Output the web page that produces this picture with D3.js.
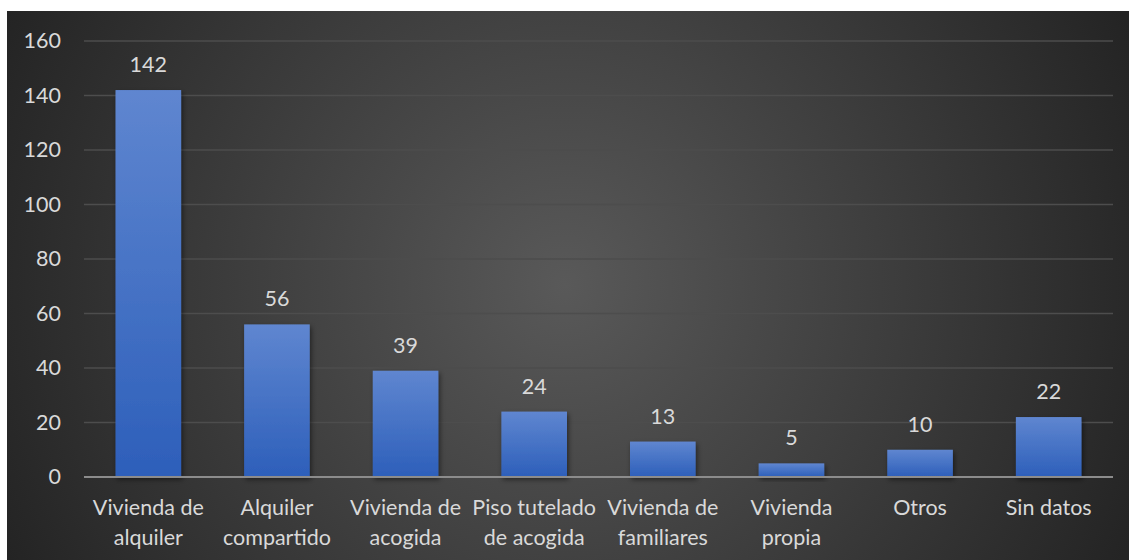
<!DOCTYPE html>
<html><head><meta charset="utf-8">
<script src="https://cdn.jsdelivr.net/npm/d3@7"></script>
<style>html,body{margin:0;padding:0;background:#fff;}svg{display:block;}</style>
</head><body>
<script>
const categories = [["Vivienda de","alquiler"],["Alquiler","compartido"],["Vivienda de","acogida"],["Piso tutelado","de acogida"],["Vivienda de","familiares"],["Vivienda","propia"],["Otros"],["Sin datos"]];
const values = [142,56,39,24,13,5,10,22];
const yTicks = [0,20,40,60,80,100,120,140,160];

const W=1131,H=560;
const svg=d3.select("body").append("svg").attr("width",W).attr("height",H);
const defs=svg.append("defs");
const rg=defs.append("radialGradient").attr("id","bg").attr("gradientUnits","userSpaceOnUse")
  .attr("cx",565).attr("cy",285).attr("r",620);
rg.append("stop").attr("offset","0%").attr("stop-color","#595959");
rg.append("stop").attr("offset","100%").attr("stop-color","#242424");
const lg=defs.append("linearGradient").attr("id","bar").attr("x1",0).attr("y1",0).attr("x2",0).attr("y2",1);
lg.append("stop").attr("offset","0%").attr("stop-color","#5f86d0");
lg.append("stop").attr("offset","100%").attr("stop-color","#2d5fba");
const f=defs.append("filter").attr("id","sh").attr("x","-20%").attr("y","-20%").attr("width","150%").attr("height","150%");
f.append("feDropShadow").attr("dx",1.5).attr("dy",2.5).attr("stdDeviation",2.5).attr("flood-color","#000").attr("flood-opacity",0.5);

svg.append("rect").attr("x",7).attr("y",11).attr("width",W-9).attr("height",H-11).attr("fill","url(#bg)");

const x=d3.scaleBand().domain(d3.range(categories.length)).range([84,1113]).paddingInner(0.49).paddingOuter(0.245);
const y=d3.scaleLinear().domain([0,160]).range([477,41]);
const font="Lato, 'Open Sans', sans-serif";
const fs="21.5px";
const tc="#d9d9d9";

const g=svg.append("g");
g.selectAll("line.grid").data(yTicks.filter(d=>d>0)).join("line")
  .attr("x1",84).attr("x2",1113).attr("y1",d=>y(d)).attr("y2",d=>y(d))
  .attr("stroke","#4d4d4d").attr("stroke-width",1.3);

const yAxis=svg.append("g").attr("transform","translate(84,0)")
  .call(d3.axisLeft(y).tickValues(yTicks).tickSize(0).tickPadding(23));
yAxis.select(".domain").remove();
yAxis.selectAll("text").attr("fill",tc).style("font-family",font).style("font-size",fs);

g.selectAll("rect.bar").data(values).join("rect")
  .attr("x",(d,i)=>x(i)).attr("width",x.bandwidth())
  .attr("y",d=>y(d)).attr("height",d=>y(0)-y(d))
  .attr("fill","url(#bar)").attr("filter","url(#sh)");

g.selectAll("text.val").data(values).join("text")
  .attr("x",(d,i)=>x(i)+x.bandwidth()/2).attr("y",d=>y(d)-18)
  .attr("text-anchor","middle").attr("fill",tc)
  .style("font-family",font).style("font-size",fs).text(d=>d);

svg.append("line").attr("x1",84).attr("x2",1113).attr("y1",y(0)).attr("y2",y(0))
  .attr("stroke","#8c8c8c").attr("stroke-width",1.8);

const xl=svg.selectAll("text.cat").data(categories).join("text")
  .attr("text-anchor","middle").attr("fill",tc)
  .style("font-family",font).style("font-size",fs);
xl.each(function(d,i){
  const t=d3.select(this);
  d.forEach((line,j)=>t.append("tspan").attr("x",x(i)+x.bandwidth()/2).attr("y",515+j*30).text(line));
});
</script>
</body></html>
